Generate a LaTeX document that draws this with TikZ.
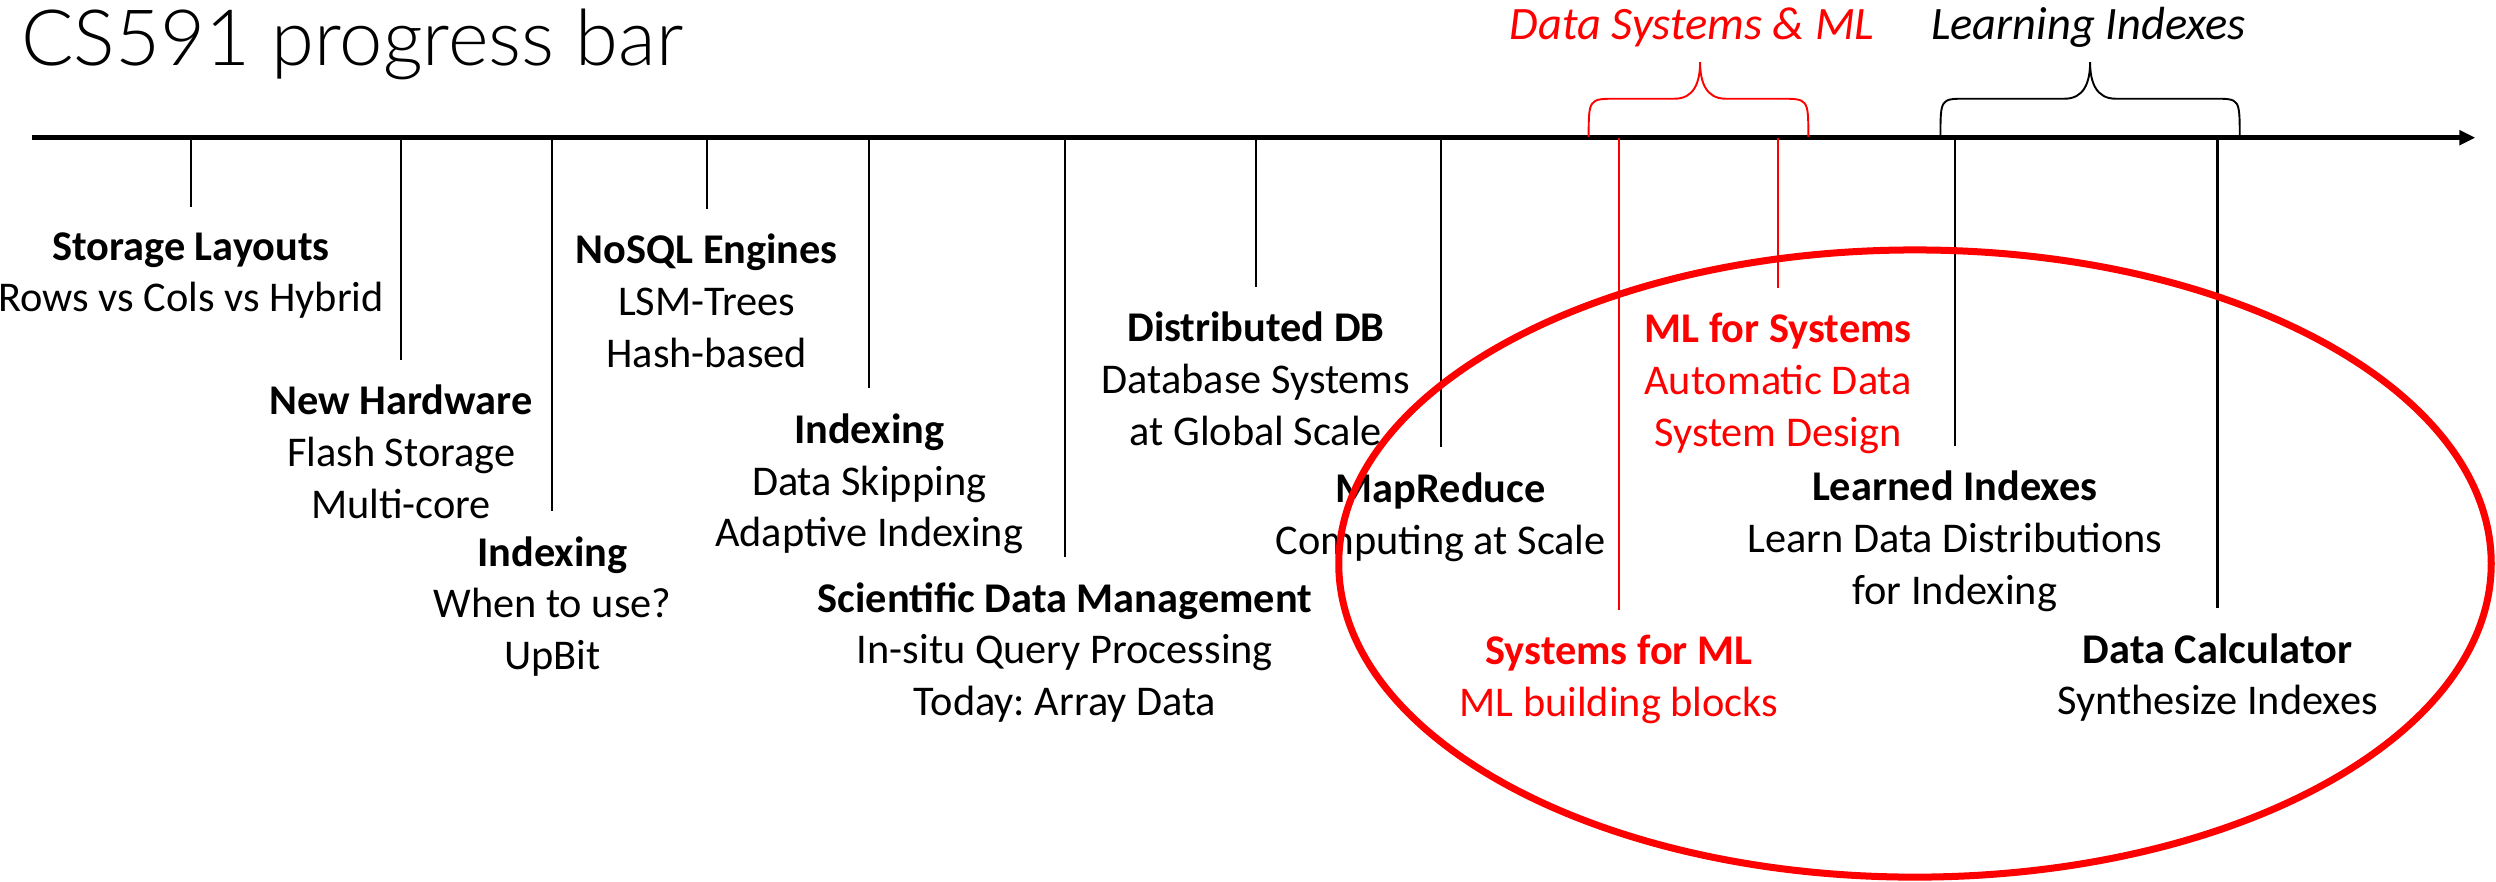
\documentclass[tikz,border=0pt]{standalone}
\usepackage{fontspec}
\setmainfont{Carlito}
\newfontfamily\lightfont{Lato}[UprightFont=* Light]
\frenchspacing
\usetikzlibrary{arrows.meta}

\tikzset{
  stem/.style={line width=0.7pt},
  topic/.style={anchor=north,align=center,inner xsep=0pt,inner ysep=7.75pt,
    font=\fontsize{13.3}{16.25}\selectfont},
  theme/.style={anchor=base,inner sep=0pt,font=\fontsize{14.6}{17}\selectfont\itshape},
  curly/.style={line width=0.6pt},
}

\begin{document}
\begin{tikzpicture}[x=0.5pt,y=-0.5pt]
\useasboundingbox (0,0) rectangle (1568,554);

\node[anchor=base west,inner sep=0pt,font=\lightfont\fontsize{24.4}{30}\selectfont] (title) at (13,41) {CS591 progress bar};

\coordinate (t0) at (20,86.5);
\coordinate (tend) at (1555,86.5);
\draw[line width=1.5pt,-{Triangle[length=5pt,width=4.5pt]}] (t0) -- (tend);

\coordinate (a1) at (120,86.5);
\coordinate (a2) at (252,86.5);
\coordinate (a3) at (347,86.5);
\coordinate (a4) at (444,86.5);
\coordinate (a5) at (546,86.5);
\coordinate (a6) at (669,86.5);
\coordinate (a7) at (789,86.5);
\coordinate (a8) at (905,86.5);
\coordinate (a9) at (1017,86.5);
\coordinate (a10) at (1117,86.5);
\coordinate (a11) at (1228,86.5);
\coordinate (a12) at (1393,86.5);

\node[topic] (s1) at (120,130) {\textbf{Storage Layouts}\\Rows vs Cols vs Hybrid};
\node[topic] (s2) at (252,226) {\textbf{New Hardware}\\Flash Storage\\Multi-core};
\node[topic] (s3) at (347,321) {\textbf{Indexing}\\When to use?\\UpBit};
\node[topic] (s4) at (444,131) {\textbf{NoSQL Engines}\\LSM-Trees\\Hash-based};
\node[topic] (s5) at (546,244) {\textbf{Indexing}\\Data Skipping\\Adaptive Indexing};
\node[topic] (s6) at (669,350) {\textbf{Scientific Data Management}\\In-situ Query Processing\\Today: Array Data};
\node[topic] (s7) at (789,180) {\textbf{Distributed DB}\\Database Systems\\at Global Scale};
\node[topic] (s8) at (905,281) {\textbf{MapReduce}\\Computing at Scale};
\node[topic,red] (s9) at (1017,383) {\textbf{Systems for ML}\\ML building blocks};
\node[topic,red] (s10) at (1117,181) {\textbf{ML for Systems}\\Automatic Data\\System Design};
\node[topic] (s11) at (1228,280) {\textbf{Learned Indexes}\\Learn Data Distributions\\for Indexing};
\node[topic] (s12) at (1393,382) {\textbf{Data Calculator}\\Synthesize Indexes};

\draw[stem] (a1) -- (s1);
\draw[stem] (a2) -- (s2);
\draw[stem] (a3) -- (s3);
\draw[stem] (a4) -- (s4);
\draw[stem] (a5) -- (s5);
\draw[stem] (a6) -- (s6);
\draw[stem] (a7) -- (s7);
\draw[stem] (a8) -- (s8);
\draw[stem,red] (a9) -- (s9);
\draw[stem,red] (a10) -- (s10);
\draw[stem] (a11) -- (s11);
\draw[stem] (a12) -- (s12);

\node[theme,red] (dsml) at (1063,25) {Data Systems \& ML};
\node[theme] (learn) at (1312,25) {Learning Indexes};

\draw[curly,red] (998,86) .. controls (998,62) and (998,62) .. (1016,62) -- (1052,62)
  .. controls (1064,62) and (1068,52) .. (1068,39) .. controls (1068,52) and (1072,62) .. (1084,62)
  -- (1118,62) .. controls (1136,62) and (1136,62) .. (1136,86);
\draw[curly] (1219,86) .. controls (1219,62) and (1219,62) .. (1235,62) -- (1297,62)
  .. controls (1309,62) and (1313,52) .. (1313,39) .. controls (1313,52) and (1317,62) .. (1329,62)
  -- (1391,62) .. controls (1407,62) and (1407,62) .. (1407,86);

\draw[red,line width=2.2pt] (1203,354) ellipse [x radius=181pt,y radius=98.5pt];
\end{tikzpicture}
\end{document}
